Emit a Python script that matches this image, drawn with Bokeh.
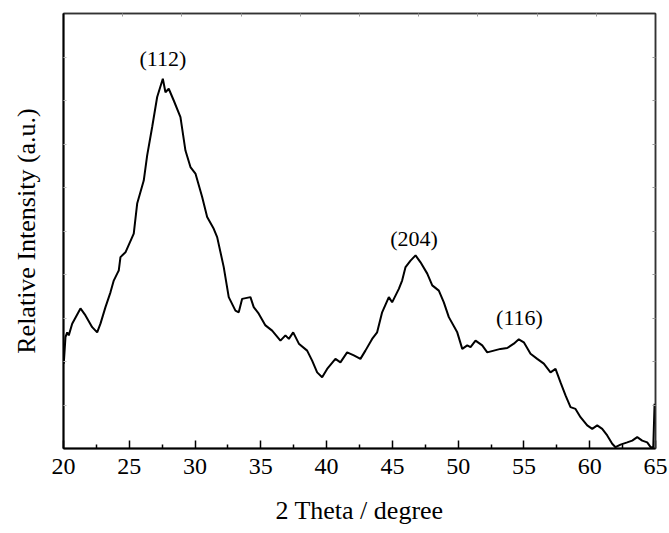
from bokeh.plotting import figure
from bokeh.models import Range1d, LinearAxis, FixedTicker, ColumnDataSource
from bokeh.core.properties import value
from bokeh.embed import file_html
from bokeh.resources import INLINE

two_theta = [20.02, 20.15, 20.28, 20.40, 20.66, 21.29, 21.67, 22.18, 22.56, 22.81,
             23.19, 23.57, 23.82, 24.08, 24.20, 24.33, 24.71, 25.34, 25.60, 26.10,
             26.36, 26.74, 27.12, 27.55, 27.75, 28.00, 28.38, 28.89, 29.27, 29.65,
             30.03, 30.54, 30.92, 31.42, 31.68, 32.18, 32.56, 33.07, 33.32, 33.58,
             34.21, 34.46, 34.84, 35.35, 35.86, 36.49, 36.87, 37.13, 37.46, 37.89,
             38.52, 38.90, 39.28, 39.66, 40.04, 40.67, 41.05, 41.56, 42.07, 42.57,
             42.95, 43.46, 43.84, 44.22, 44.73, 44.98, 45.49, 45.74, 46.00, 46.38,
             46.76, 47.14, 47.65, 48.03, 48.53, 48.91, 49.29, 49.93, 50.31, 50.69,
             50.94, 51.32, 51.83, 52.21, 52.71, 53.22, 53.73, 54.23, 54.61, 54.99,
             55.50, 56.01, 56.51, 57.02, 57.40, 57.78, 58.16, 58.54, 58.92, 59.30,
             59.81, 60.19, 60.57, 60.95, 61.33, 61.71, 61.96, 62.34, 62.85, 63.23,
             63.61, 63.99, 64.37, 64.63, 64.83, 64.93]
intensity = [19.5, 25.6, 26.7, 26.0, 28.7, 32.2, 30.6, 27.9, 26.7, 28.7,
             32.5, 35.9, 38.6, 40.2, 40.9, 44.0, 45.1, 49.4, 56.3, 61.6,
             67.4, 73.9, 80.8, 85.0, 81.9, 82.7, 80.0, 76.2, 68.5, 64.7,
             63.2, 57.8, 53.2, 50.5, 48.6, 41.7, 34.8, 31.7, 31.3, 34.4,
             34.8, 32.5, 31.0, 28.3, 27.1, 24.8, 26.0, 25.2, 26.7, 24.1,
             22.5, 20.2, 17.5, 16.4, 18.3, 20.6, 19.8, 22.1, 21.4, 20.6,
             22.5, 25.2, 26.7, 31.3, 34.8, 33.6, 36.7, 38.6, 41.7, 43.2,
             44.4, 42.8, 40.2, 37.5, 36.3, 33.6, 30.2, 26.7, 22.9, 23.7,
             23.3, 24.8, 23.7, 22.1, 22.5, 22.9, 23.1, 24.1, 25.1, 24.4,
             21.8, 20.6, 19.5, 17.5, 18.3, 15.2, 12.2, 9.5, 9.1, 7.2,
             5.3, 4.5, 5.3, 4.5, 3.0, 1.1, 0.3, 0.9, 1.4, 1.8,
             2.6, 1.8, 1.4, 0.3, 0.3, 10.3]

peak_labels = ["(112)", "(204)", "(116)"]
peak_label_x = [27.56, 46.64, 54.66]
peak_label_y = [89.7, 48.2, 30.2]

x_ticks = [20, 25, 30, 35, 40, 45, 50, 55, 60, 65]
x_minor = [22.5, 27.5, 32.5, 37.5, 42.5, 47.5, 52.5, 57.5, 62.5]
top_ticks = [24.5, 29, 33.5, 38, 42.5, 47, 51.5, 56, 60.5]
y_ticks = [10, 20, 30, 40, 50, 60, 70, 80, 90]

FONT = "Liberation Serif"

p = figure(width=669, height=533, output_backend="svg", toolbar_location=None,
           x_range=Range1d(20, 65), y_range=Range1d(0, 100),
           min_border_left=63, min_border_right=14, min_border_top=13,
           min_border_bottom=85)
p.background_fill_color = "white"
p.border_fill_color = "white"
p.grid.visible = False
p.outline_line_color = "#333333"
p.outline_line_width = 1.5

src = ColumnDataSource(dict(x=two_theta, y=intensity))
p.line("x", "y", source=src, line_color="black", line_width=2)

lab = ColumnDataSource(dict(x=peak_label_x, y=peak_label_y, t=peak_labels))
p.text("x", "y", text="t", source=lab, text_font=value(FONT),
       text_font_size="22px", text_align="center", text_baseline="middle",
       text_color="black")

xa = p.xaxis[0]
xa.ticker = FixedTicker(ticks=x_ticks, minor_ticks=x_minor)
xa.major_tick_in = 8
xa.major_tick_out = 0
xa.minor_tick_in = 4
xa.minor_tick_out = 0
xa.axis_line_width = 2
xa.axis_line_color = "black"
xa.major_tick_line_width = 1.5
xa.minor_tick_line_width = 1.5
xa.major_label_text_font = FONT
xa.major_label_text_font_size = "24px"
xa.major_label_text_color = "black"
xa.major_label_standoff = 10
xa.axis_label = "2 Theta / degree"
xa.axis_label_text_font = FONT
xa.axis_label_text_font_size = "26px"
xa.axis_label_text_font_style = "normal"
xa.axis_label_text_color = "black"
xa.axis_label_standoff = 19

ya = p.yaxis[0]
ya.ticker = FixedTicker(ticks=y_ticks, minor_ticks=[])
ya.major_tick_in = 3
ya.major_tick_out = 0
ya.major_tick_line_color = "#bbbbbb"
ya.axis_line_width = 2
ya.axis_line_color = "black"
ya.major_label_text_font_size = "1px"
ya.major_label_text_color = None
ya.major_label_standoff = 0
ya.axis_label = "Relative Intensity (a.u.)"
ya.axis_label_text_font = FONT
ya.axis_label_text_font_size = "26px"
ya.axis_label_text_font_style = "normal"
ya.axis_label_text_color = "black"
ya.axis_label_standoff = 23

top = LinearAxis(ticker=FixedTicker(ticks=top_ticks, minor_ticks=[]),
                 major_tick_in=3, major_tick_out=0, major_tick_line_color="#999999",
                 major_label_text_font_size="1px", major_label_text_color=None,
                 major_label_standoff=0,
                 axis_line_color="#333333", axis_line_width=1.5)
p.add_layout(top, "above")
right = LinearAxis(ticker=FixedTicker(ticks=y_ticks, minor_ticks=[]),
                   major_tick_in=3, major_tick_out=0, major_tick_line_color="#999999",
                   major_label_text_font_size="1px", major_label_text_color=None,
                   major_label_standoff=0,
                   axis_line_color="#333333", axis_line_width=1.5)
p.add_layout(right, "right")

open("out.html", "w").write(file_html(p, INLINE))
